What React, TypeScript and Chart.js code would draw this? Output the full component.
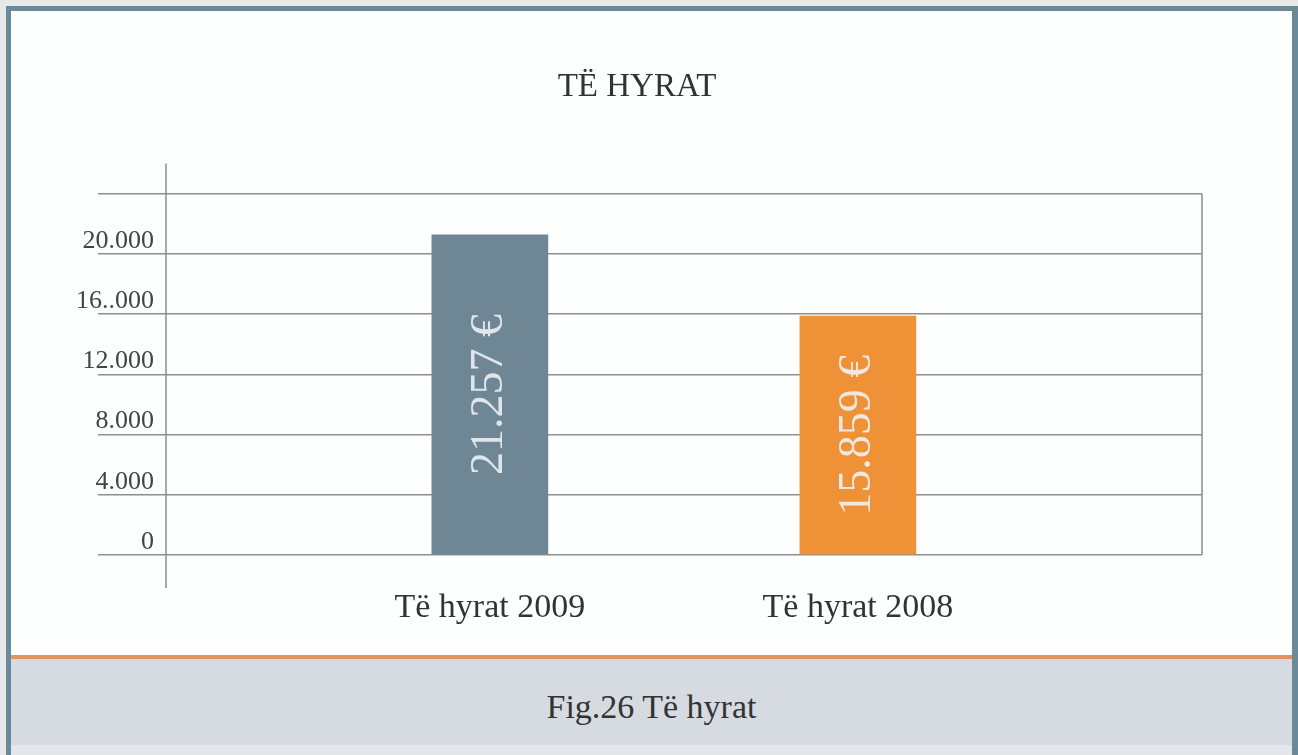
import React, { useEffect, useRef } from "react";
import { Chart, registerables } from "chart.js";

Chart.register(...registerables);

const chartTitle = "TË HYRAT";
const caption = "Fig.26 Të hyrat";
const categories = ["Të hyrat 2009", "Të hyrat 2008"];
const values = [21257, 15859];
const valueLabels = ["21.257 €", "15.859 €"];
const yTickLabels = ["0", "4.000", "8.000", "12.000", "16..000", "20.000", ""];
const barColors = ["#6f8794", "#ef9137"];

const FONT = "'Liberation Serif', 'Times New Roman', serif";

const frameLines = {
  id: "frameLines",
  afterDraw(chart: any) {
    const { ctx, chartArea } = chart;
    const { left, right, top, bottom } = chartArea;
    ctx.save();
    ctx.strokeStyle = "#8a8d90";
    ctx.lineWidth = 1.5;
    ctx.beginPath();
    ctx.moveTo(left, top - 30);
    ctx.lineTo(left, bottom + 33);
    ctx.moveTo(right, top);
    ctx.lineTo(right, bottom);
    ctx.stroke();
    ctx.restore();
  },
};

const barText = {
  id: "barText",
  afterDatasetsDraw(chart: any) {
    const { ctx } = chart;
    const meta = chart.getDatasetMeta(0);
    ctx.save();
    ctx.font = `46px ${FONT}`;
    ctx.fillStyle = "rgba(238,244,247,0.88)";
    ctx.textAlign = "center";
    ctx.textBaseline = "middle";
    meta.data.forEach((el: any, i: number) => {
      const cy = (el.y + el.base) / 2;
      ctx.save();
      ctx.translate(el.x, cy);
      ctx.rotate(-Math.PI / 2);
      ctx.fillText(valueLabels[i], 0, 0);
      ctx.restore();
    });
    ctx.restore();
  },
};

export default function App() {
  const canvasRef = useRef<HTMLCanvasElement | null>(null);

  useEffect(() => {
    const canvas = canvasRef.current;
    if (!canvas) return;
    const chart = new Chart(canvas, {
      type: "bar",
      data: {
        datasets: [
          {
            data: values.map((v, i) => ({ x: i + 1, y: v })),
            backgroundColor: barColors,
            borderWidth: 0,
            barThickness: 116,
          },
        ],
      },
      options: {
        responsive: false,
        animation: false,
        devicePixelRatio: 1,
        layout: { padding: { left: 72, right: 96, top: 0, bottom: 0 } },
        plugins: {
          legend: { display: false },
          tooltip: { enabled: false },
          title: {
            display: true,
            text: chartTitle,
            color: "#333",
            font: { family: FONT, size: 33, weight: "normal" },
            padding: { top: 68, bottom: 86 },
          },
        },
        scales: {
          x: {
            type: "linear",
            min: 0.12,
            max: 2.935,
            offset: false,
            grid: { display: false, offset: false },
            border: { display: false },
            afterBuildTicks: (scale: any) => {
              scale.ticks = categories.map((_, i) => ({ value: i + 1 }));
            },
            afterFit: (scale: any) => {
              scale.height = 95;
            },
            ticks: {
              color: "#333",
              font: { family: FONT, size: 34 },
              padding: 25,
              autoSkip: false,
              maxRotation: 0,
              callback: (v: any) => categories[Math.round(Number(v)) - 1] ?? "",
            },
          },
          y: {
            min: 0,
            max: 24000,
            grid: {
              color: "#8c9094",
              lineWidth: 1.5,
              drawTicks: true,
              tickLength: 68,
            },
            border: { display: false },
            afterFit: (scale: any) => {
              scale.width = 94;
            },
            ticks: {
              stepSize: 4000,
              color: "#444",
              font: { family: FONT, size: 26 },
              padding: -56,
              labelOffset: -13,
              callback: (v: any) => yTickLabels[Math.round(Number(v) / 4000)] ?? "",
            },
          },
        },
      },
      plugins: [frameLines, barText],
    } as any);
    return () => chart.destroy();
  }, []);

  return (
    <div
      style={{
        position: "absolute",
        left: 0,
        top: 0,
        width: 1298,
        height: 755,
        background: "#e6e8ea",
        overflow: "hidden",
        fontFamily: FONT,
      }}
    >
      <div
        style={{
          position: "absolute",
          left: 6,
          top: 6,
          width: 1292,
          height: 749,
          boxSizing: "border-box",
          borderTop: "5px solid #6b8a99",
          borderLeft: "5px solid #6b8a99",
          borderRight: "6px solid #6b8a99",
          background: "#fdfefe",
        }}
      />
      <div
        style={{
          position: "absolute",
          left: 11,
          top: 655,
          width: 1281,
          height: 4,
          background: "#db9462",
        }}
      />
      <div
        style={{
          position: "absolute",
          left: 11,
          top: 659,
          width: 1281,
          height: 86,
          background: "#d6dbe2",
          color: "#333",
          fontSize: 34,
          lineHeight: "96px",
          textAlign: "center",
          overflow: "hidden",
        }}
      >
        {caption}
      </div>
      <div
        style={{
          position: "absolute",
          left: 11,
          top: 745,
          width: 1281,
          height: 10,
          background: "#e3e7ea",
        }}
      />
      <canvas
        ref={canvasRef}
        width={1298}
        height={650}
        style={{ position: "absolute", left: 0, top: 0, width: 1298, height: 650 }}
      />
    </div>
  );
}
